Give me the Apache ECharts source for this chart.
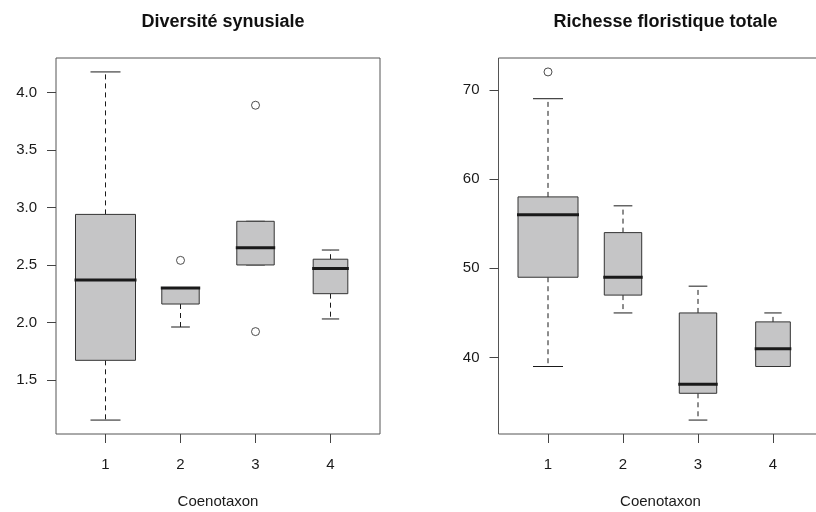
<!DOCTYPE html>
<html>
<head>
<meta charset="utf-8">
<script src="https://cdn.jsdelivr.net/npm/echarts@6/dist/echarts.min.js"></script>
<style>html,body{margin:0;padding:0;background:#fff}#c{width:816px;height:512px}</style>
</head>
<body>
<div id="c"></div>
<script>
// ---- data ----
const groups = [1, 2, 3, 4];
const groupSizes = [18, 7, 7, 6];
// [lower whisker, Q1, median, Q3, upper whisker]
const diversiteStats = [
  [1.15, 1.67, 2.37, 2.94, 4.18],
  [1.96, 2.16, 2.30, 2.30, 2.30],
  [2.50, 2.50, 2.65, 2.88, 2.88],
  [2.03, 2.25, 2.47, 2.55, 2.63]
];
const diversiteOutliers = [[2, 2.54], [3, 3.89], [3, 1.92]];
const richesseStats = [
  [39, 49, 56, 58, 69],
  [45, 47, 49, 54, 57],
  [33, 36, 37, 45, 48],
  [39, 39, 41, 44, 45]
];
const richesseOutliers = [[1, 72]];
const diversiteTicks = [1.5, 2.0, 2.5, 3.0, 3.5, 4.0];
const richesseTicks = [40, 50, 60, 70];
const titles = ['Diversité synusiale', 'Richesse floristique totale'];
const xTitle = 'Coenotaxon';

// ---- helpers ----
const FONT = '"Liberation Sans", Arial, sans-serif';
const maxN = Math.max(...groupSizes);
function extent(stats, outs) {
  const vals = stats.flat().concat(outs.map(o => o[1]));
  const mn = Math.min(...vals), mx = Math.max(...vals);
  const pad = 0.04 * (mx - mn);
  return [mn - pad, mx + pad];
}
const xMin = 0.5 - 0.04 * groups.length, xMax = groups.length + 0.5 + 0.04 * groups.length;

function boxData(stats) {
  return stats.map((s, i) => [groups[i]].concat(s).concat([groupSizes[i]]));
}

function renderBox(params, api) {
  const x = api.value(0);
  const lo = api.value(1), q1 = api.value(2), med = api.value(3), q3 = api.value(4), hi = api.value(5), n = api.value(6);
  const w = 0.8 * Math.sqrt(n / maxN);
  const half = api.size([w, 0])[0] / 2;
  const cx = api.coord([x, med])[0];
  const yLo = api.coord([x, lo])[1], yQ1 = api.coord([x, q1])[1], yMed = api.coord([x, med])[1];
  const yQ3 = api.coord([x, q3])[1], yHi = api.coord([x, hi])[1];
  const dark = '#1a1a1a';
  const dash = { stroke: dark, lineWidth: 1, lineDash: [5, 4] };
  const solid = { stroke: dark, lineWidth: 1 };
  const children = [];
  if (yHi < yQ3) children.push({ type: 'line', shape: { x1: cx, y1: yQ3, x2: cx, y2: yHi }, style: dash });
  if (yLo > yQ1) children.push({ type: 'line', shape: { x1: cx, y1: yQ1, x2: cx, y2: yLo }, style: dash });
  children.push({ type: 'line', shape: { x1: cx - half / 2, y1: yHi, x2: cx + half / 2, y2: yHi }, style: solid });
  children.push({ type: 'line', shape: { x1: cx - half / 2, y1: yLo, x2: cx + half / 2, y2: yLo }, style: solid });
  children.push({ type: 'rect', shape: { x: cx - half, y: yQ3, width: 2 * half, height: yQ1 - yQ3 },
    style: { fill: '#c5c5c6', stroke: '#333', lineWidth: 1 } });
  children.push({ type: 'line', shape: { x1: cx - half - 1, y1: yMed, x2: cx + half + 1, y2: yMed },
    style: { stroke: '#1a1a1a', lineWidth: 3 } });
  return { type: 'group', children };
}

const ext1 = extent(diversiteStats, diversiteOutliers);
const ext2 = extent(richesseStats, richesseOutliers);

const axisCommonX = (gi) => ({
  type: 'value', gridIndex: gi, min: xMin, max: xMax,
  splitLine: { show: false },
  axisLine: { show: false },
  axisTick: { show: true, customValues: groups, length: 9, lineStyle: { color: '#444', width: 1 } },
  axisLabel: { customValues: groups, margin: 23, fontSize: 15, color: '#1a1a1a', fontFamily: FONT },
  name: xTitle, nameLocation: 'middle', nameGap: 60,
  nameTextStyle: { fontSize: 15, color: '#1a1a1a', fontFamily: FONT }
});

const axisCommonY = (gi, ext, ticks, fmt) => ({
  type: 'value', gridIndex: gi, min: ext[0], max: ext[1],
  splitLine: { show: false },
  axisLine: { show: false },
  axisTick: { show: true, customValues: ticks, length: 9, lineStyle: { color: '#444', width: 1 } },
  axisLabel: { customValues: ticks, margin: 19, fontSize: 15, color: '#1a1a1a', fontFamily: FONT, formatter: fmt }
});

const chart = echarts.init(document.getElementById('c'), null, { renderer: 'canvas' });
chart.setOption({
  animation: false,
  backgroundColor: '#fff',
  title: [
    { text: titles[0], left: 218, top: 8, textAlign: 'center',
      textStyle: { fontSize: 18, fontWeight: 'bold', color: '#111', fontFamily: FONT } },
    { text: titles[1], left: 660.5, top: 8, textAlign: 'center',
      textStyle: { fontSize: 18, fontWeight: 'bold', color: '#111', fontFamily: FONT } }
  ],
  grid: [
    { left: 56, top: 58, width: 324, height: 376, show: true, borderColor: '#555', borderWidth: 1,
      backgroundColor: 'transparent', outerBoundsMode: 'none', containLabel: false },
    { left: 498.5, top: 58, width: 324, height: 376, show: true, borderColor: '#555', borderWidth: 1,
      backgroundColor: 'transparent', outerBoundsMode: 'none', containLabel: false }
  ],
  xAxis: [axisCommonX(0), axisCommonX(1)],
  yAxis: [
    axisCommonY(0, ext1, diversiteTicks, v => v.toFixed(1)),
    axisCommonY(1, ext2, richesseTicks, v => String(Math.round(v)))
  ],
  series: [
    { type: 'custom', xAxisIndex: 0, yAxisIndex: 0, renderItem: renderBox,
      encode: { x: 0, y: [1, 2, 3, 4, 5] }, data: boxData(diversiteStats), clip: false },
    { type: 'scatter', xAxisIndex: 0, yAxisIndex: 0, symbol: 'circle', symbolSize: 8,
      itemStyle: { color: 'rgba(0,0,0,0)', borderColor: '#222', borderWidth: 1 }, data: diversiteOutliers },
    { type: 'custom', xAxisIndex: 1, yAxisIndex: 1, renderItem: renderBox,
      encode: { x: 0, y: [1, 2, 3, 4, 5] }, data: boxData(richesseStats), clip: false },
    { type: 'scatter', xAxisIndex: 1, yAxisIndex: 1, symbol: 'circle', symbolSize: 8,
      itemStyle: { color: 'rgba(0,0,0,0)', borderColor: '#222', borderWidth: 1 }, data: richesseOutliers }
  ]
});
</script>
</body>
</html>
